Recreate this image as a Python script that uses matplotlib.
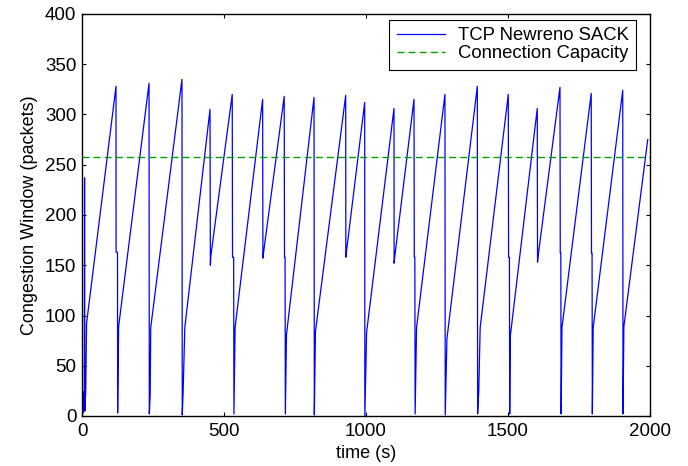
import matplotlib
matplotlib.use('Agg')
import matplotlib.pyplot as plt
import numpy as np

# key vertices of the congestion window trace (time in s, window in packets)
t_cwnd = [0, 2, 4, 6, 8, 9, 10, 13, 16,
          119.7, 120, 125, 125.5, 127, 129,
          236, 237, 240, 242,
          352, 353, 356, 362,
          450.7, 452, 454,
          529, 530, 534, 535, 539,
          636, 637, 639,
          712, 713, 715, 716, 720,
          817, 818, 822,
          928.5, 929, 931,
          995.4, 996, 1002,
          1098.6, 1099, 1101,
          1169, 1170, 1172, 1173, 1178,
          1278, 1279, 1285,
          1392, 1393, 1397, 1402,
          1501, 1502, 1505, 1506, 1508,
          1603, 1604, 1606,
          1683, 1684, 1686, 1687, 1690,
          1793, 1794, 1796, 1797, 1800,
          1904, 1905, 1908,
          1992]
w_cwnd = [1, 20, 3, 24, 5, 237, 5, 23, 92,
          328, 163, 163, 3, 42, 89,
          331, 2, 20, 88,
          335, 1, 23, 88,
          305, 150, 160,
          320, 158, 158, 2, 88,
          315, 157, 162,
          318, 158, 158, 2, 81,
          317, 1, 84,
          319, 158, 163,
          312, 0, 83,
          306, 152, 158,
          315, 158, 158, 2, 88,
          320, 1, 77,
          328, 2, 24, 88,
          320, 158, 158, 2, 79,
          306, 153, 159,
          327, 162, 162, 2, 88,
          321, 162, 162, 2, 88,
          324, 2, 89,
          275]

capacity = 258
t_range = [0, 2000]

plt.rcParams['font.family'] = ['Liberation Sans', 'DejaVu Sans']

fig = plt.figure(figsize=(6.88, 4.66), dpi=100)
ax = fig.add_axes([82 / 688, 50 / 466, 568 / 688, 402 / 466])

ax.plot(t_cwnd, w_cwnd, color='#0000ff', linewidth=0.9, label='TCP Newreno SACK')
ax.plot(t_range, [capacity, capacity], color='#00a000', linewidth=1.0,
        dashes=(5, 3), label='Connection Capacity')

ax.set_xlim(0, 2000)
ax.set_ylim(0, 400)
ax.set_xticks(np.arange(0, 2001, 500))
ax.set_yticks(np.arange(0, 401, 50))
ax.tick_params(direction='in', top=True, right=True, labelsize=13.5, length=3, width=0.8)
ax.tick_params(axis='x', pad=5)
ax.tick_params(axis='y', pad=4)
for s in ax.spines.values():
    s.set_linewidth(1.0)

ax.set_xlabel('time (s)', fontsize=13, labelpad=4)
ax.set_ylabel('Congestion Window (packets)', fontsize=13, labelpad=5)

leg = ax.legend(loc='upper right', bbox_to_anchor=(0.975, 0.985), fontsize=13.3,
                frameon=True, fancybox=False, edgecolor='black', framealpha=1,
                borderpad=0.4, labelspacing=0.05, handlelength=2.6,
                handletextpad=0.7, borderaxespad=0)
leg.get_frame().set_linewidth(0.8)

plt.savefig('out.png', dpi=100)
